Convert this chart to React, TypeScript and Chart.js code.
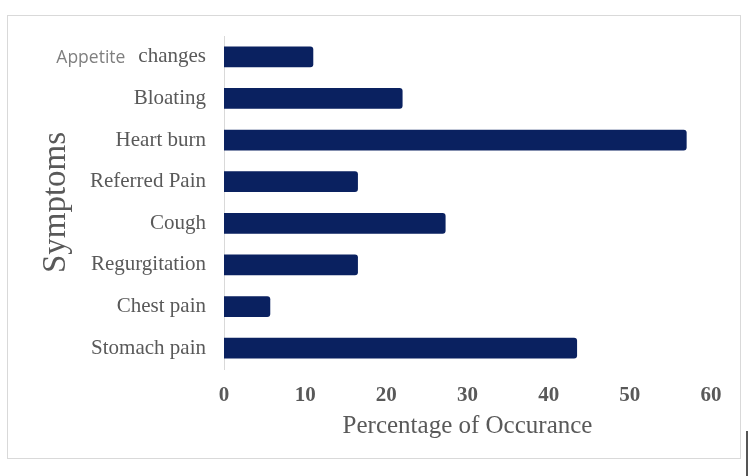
import React, { useEffect, useRef } from "react";
import { Chart, registerables } from "chart.js";

Chart.register(...registerables);

const symptoms = [
  "Appetite  changes",
  "Bloating",
  "Heart burn",
  "Referred Pain",
  "Cough",
  "Regurgitation",
  "Chest pain",
  "Stomach pain",
];
const occurrence = [11, 22, 57, 16.5, 27.3, 16.5, 5.7, 43.5];
const xTicks = [0, 10, 20, 30, 40, 50, 60];

const SERIF = "'Liberation Serif', 'Times New Roman', serif";
const SANS = "'Open Sans', 'Noto Sans', sans-serif";
const TEXT = "#595959";

// Draws the category labels; the first one mixes a sans and a serif word.
const symptomLabels = {
  id: "symptomLabels",
  afterDraw(chart: any) {
    const { ctx, chartArea } = chart;
    const yScale = chart.scales.y;
    const xRight = chartArea.left - 18;
    ctx.save();
    ctx.textBaseline = "middle";
    ctx.textAlign = "right";
    symptoms.forEach((label, i) => {
      const py = yScale.getPixelForTick(i);
      if (label.startsWith("Appetite")) {
        ctx.font = `21px ${SERIF}`;
        ctx.fillStyle = TEXT;
        ctx.fillText("changes", xRight, py);
        const w = ctx.measureText("changes").width;
        ctx.font = `17.5px ${SANS}`;
        ctx.fillStyle = "#7f7f7f";
        ctx.fillText("Appetite", xRight - w - 13, py + 1);
      } else {
        ctx.font = `21px ${SERIF}`;
        ctx.fillStyle = TEXT;
        ctx.fillText(label, xRight, py);
      }
    });
    ctx.restore();
  },
};

export default function App() {
  const ref = useRef<HTMLCanvasElement>(null);

  useEffect(() => {
    if (!ref.current) return;
    const chart = new Chart(ref.current, {
      type: "bar",
      data: {
        labels: symptoms,
        datasets: [
          {
            data: occurrence,
            backgroundColor: "#0a2160",
            borderRadius: 3,
            borderSkipped: "start",
            categoryPercentage: 1,
            barPercentage: 0.5,
          },
        ],
      },
      options: {
        indexAxis: "y",
        animation: false,
        responsive: false,
        maintainAspectRatio: false,
        layout: { padding: { top: 20, right: 29, bottom: 17, left: 0 } },
        plugins: {
          legend: { display: false },
          tooltip: { enabled: false },
        },
        scales: {
          x: {
            min: 0,
            max: 60,
            afterBuildTicks: (scale: any) => {
              scale.ticks = xTicks.map((v) => ({ value: v }));
            },
            afterFit: (scale: any) => {
              scale.height = 72;
              scale.paddingLeft = 0;
              scale.paddingRight = 0;
            },
            grid: { display: false, drawTicks: false },
            border: { display: false },
            ticks: {
              color: TEXT,
              font: { family: SERIF, size: 21, weight: "bold" },
              padding: 14,
              maxRotation: 0,
            },
            title: {
              display: true,
              text: "Percentage of Occurance",
              color: TEXT,
              font: { family: SERIF, size: 25 },
              padding: { top: 0, bottom: 0 },
            },
          },
          y: {
            grid: { display: false, drawTicks: false },
            border: { display: true, color: "#d9d9d9", width: 1 },
            ticks: {
              color: "rgba(0,0,0,0)",
              font: { family: SERIF, size: 21 },
              padding: 18,
            },
            afterFit: (scale: any) => {
              scale.width = 216;
              scale.paddingTop = 0;
              scale.paddingBottom = 0;
            },
            title: {
              display: true,
              text: "Symptoms",
              color: TEXT,
              font: { family: SERIF, size: 33 },
              padding: { top: 29, bottom: 0 },
            },
          },
        },
      },
      plugins: [symptomLabels],
    });
    return () => chart.destroy();
  }, []);

  return (
    <div>
      <div
        style={{
          position: "absolute",
          left: 7,
          top: 15,
          width: 734,
          height: 444,
          border: "1px solid #d9d9d9",
          boxSizing: "border-box",
          background: "#fff",
        }}
      >
        <canvas ref={ref} width={732} height={442} style={{ display: "block" }} />
      </div>
      <div
        style={{
          position: "absolute",
          left: 746,
          top: 431,
          width: 2,
          height: 45,
          background: "#555",
        }}
      />
    </div>
  );
}
